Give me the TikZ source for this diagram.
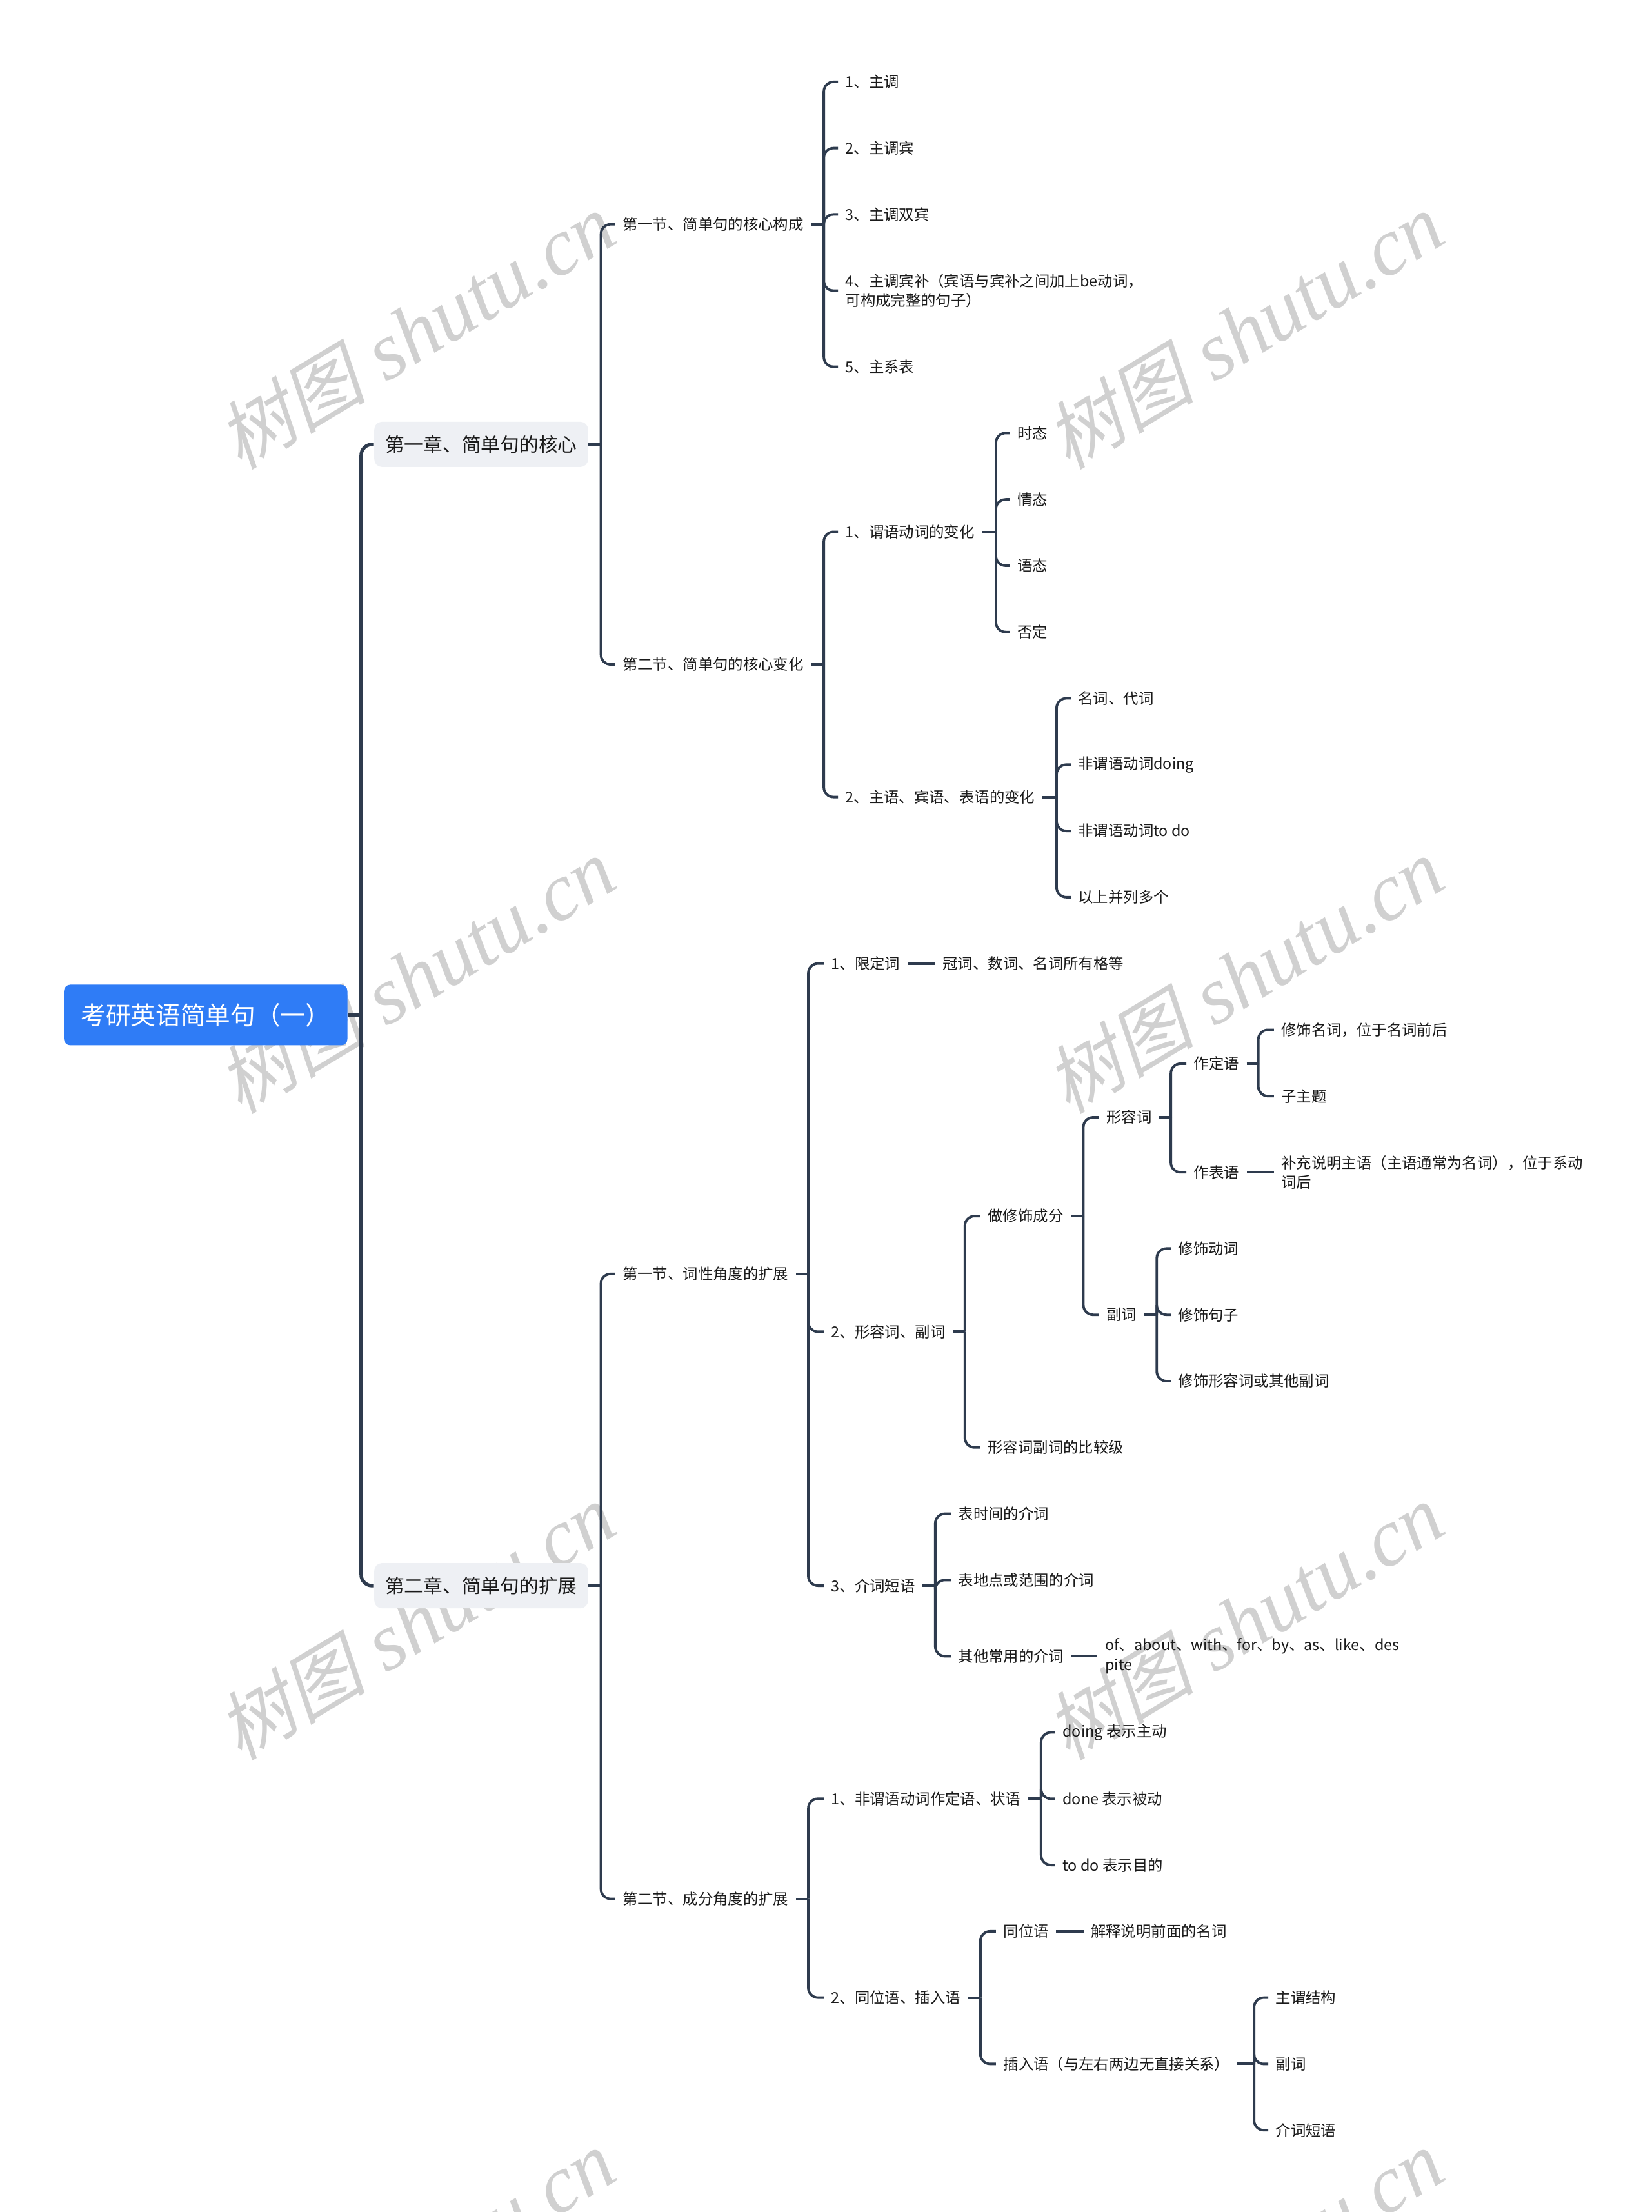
\documentclass[tikz,border=0pt]{standalone}
\usepackage{fontspec}
\setmainfont{Noto Sans CJK SC}
\newfontfamily\wmcjk[FakeSlant=0.22]{Noto Sans CJK SC}
\newfontfamily\wmlat{Liberation Serif}
\definecolor{lc}{HTML}{2E3B4E}
\definecolor{rootblue}{HTML}{2F7CF6}
\definecolor{chfill}{HTML}{EEF0F4}
\definecolor{wmc}{HTML}{D0D0D0}
\definecolor{txt}{HTML}{1A1A1A}
\newcommand\smtxt{\fontsize{6.65pt}{8.7pt}\selectfont}
\newcommand\fork[5]{%
  \coordinate (#2j) at (#3,#4);
  \draw[#1] (#2.east) -- (#2j);
  \foreach \c in {#5} {\draw[#1] (#2j) |- (\c.west);}}
\newcommand\link[2]{\draw[conn] (#1.east) -- (#2.west);}
\begin{document}
\begin{tikzpicture}[x=0.021862cm, y=-0.021862cm,
  conn/.style={draw=lc, line width=1.1pt, rounded corners=0.15cm},
  trunk/.style={draw=lc, line width=1.5pt, rounded corners=0.17cm},
  leaf/.style={anchor=west, inner xsep=0.11cm, inner ysep=0pt, font=\smtxt, align=left, text=txt},
  chap/.style={anchor=west, fill=chfill, rounded corners=0.12cm, inner xsep=0.17cm, inner ysep=0pt,
    minimum height=0.70cm, font=\fontsize{8.46pt}{10pt}\selectfont, text=txt},
  rootbox/.style={anchor=west, fill=rootblue, text=white, rounded corners=0.1cm, inner sep=0pt,
    minimum width=4.394cm, minimum height=0.94cm, font=\fontsize{11pt}{13pt}\selectfont},
  wm/.style={text=wmc, rotate=31, inner sep=0pt}]
\useasboundingbox (0,0) rectangle (1171,1568);
\fill[white] (0,0) rectangle (1171,1568);

% watermarks
\foreach \i/\wx/\wy in {1/295/235, 2/882/235, 3/295/692, 4/882/692, 5/295/1150, 6/882/1150, 7/295/1608, 8/882/1608}{
  \node[wm] (wm\i) at (\wx,\wy) {{\wmcjk\fontsize{33pt}{36pt}\selectfont 树图}\hspace{9pt}{\wmlat\itshape\fontsize{36pt}{38pt}\selectfont shutu.cn}};
}

% root and chapters
\node[rootbox] (root) at (45,719.5) {考研英语简单句（一）};
\node[chap] (ch1) at (265,315) {第一章、简单句的核心};
\node[chap] (ch2) at (265,1124) {第二章、简单句的扩展};

% chapter 1
\node[leaf] (s11) at (436,159) {第一节、简单句的核心构成};
\node[leaf] (s12) at (436,471) {第二节、简单句的核心变化};
\node[leaf] (a1) at (594,58) {1、主调};
\node[leaf] (a2) at (594,105) {2、主调宾};
\node[leaf] (a3) at (594,152) {3、主调双宾};
\node[leaf] (a4) at (594,206) {4、主调宾补（宾语与宾补之间加上be动词，\\可构成完整的句子）};
\node[leaf] (a5) at (594,260) {5、主系表};
\node[leaf] (b1) at (594,377) {1、谓语动词的变化};
\node[leaf] (b2) at (594,565) {2、主语、宾语、表语的变化};
\node[leaf] (b11) at (716,307) {时态};
\node[leaf] (b12) at (716,354) {情态};
\node[leaf] (b13) at (716,401) {语态};
\node[leaf] (b14) at (716,448) {否定};
\node[leaf] (b21) at (759,495) {名词、代词};
\node[leaf] (b22) at (759,542) {非谓语动词doing};
\node[leaf] (b23) at (759,589) {非谓语动词to do};
\node[leaf] (b24) at (759,636) {以上并列多个};

% chapter 2
\node[leaf] (s21) at (436,903) {第一节、词性角度的扩展};
\node[leaf] (s22) at (436,1346) {第二节、成分角度的扩展};
\node[leaf] (c1) at (584,683) {1、限定词};
\node[leaf] (c1a) at (663,683) {冠词、数词、名词所有格等};
\node[leaf] (c2) at (584,944) {2、形容词、副词};
\node[leaf] (c2a) at (695,862) {做修饰成分};
\node[leaf] (c2b) at (695,1026) {形容词副词的比较级};
\node[leaf] (adj) at (779,792) {形容词};
\node[leaf] (adv) at (779,932) {副词};
\node[leaf] (dz) at (841,754) {作定语};
\node[leaf] (db) at (841,831) {作表语};
\node[leaf] (dz1) at (903,730) {修饰名词，位于名词前后};
\node[leaf] (dz2) at (903,777) {子主题};
\node[leaf] (db1) at (903,831) {补充说明主语（主语通常为名词），位于系动\\词后};
\node[leaf] (adv1) at (830,885) {修饰动词};
\node[leaf] (adv2) at (830,932) {修饰句子};
\node[leaf] (adv3) at (830,979) {修饰形容词或其他副词};
\node[leaf] (c3) at (584,1124) {3、介词短语};
\node[leaf] (c3a) at (674,1073) {表时间的介词};
\node[leaf] (c3b) at (674,1120) {表地点或范围的介词};
\node[leaf] (c3c) at (674,1174) {其他常用的介词};
\node[leaf] (c3c1) at (778,1174) {of、about、with、for、by、as、like、des\\pite};
\node[leaf] (d1) at (584,1275) {1、非谓语动词作定语、状语};
\node[leaf] (d1a) at (748,1228) {doing 表示主动};
\node[leaf] (d1b) at (748,1275) {done 表示被动};
\node[leaf] (d1c) at (748,1322) {to do 表示目的};
\node[leaf] (d2) at (584,1416) {2、同位语、插入语};
\node[leaf] (d2a) at (706,1369) {同位语};
\node[leaf] (d2a1) at (768,1369) {解释说明前面的名词};
\node[leaf] (d2b) at (706,1463) {插入语（与左右两边无直接关系）};
\node[leaf] (d2b1) at (899,1416) {主谓结构};
\node[leaf] (d2b2) at (899,1463) {副词};
\node[leaf] (d2b3) at (899,1510) {介词短语};

% connectors
\fork{trunk}{root}{256}{719.5}{ch1,ch2}
\fork{conn}{ch1}{426}{315}{s11,s12}
\fork{conn}{ch2}{426}{1124}{s21,s22}
\fork{conn}{s11}{584}{159}{a1,a2,a3,a4,a5}
\fork{conn}{s12}{584}{471}{b1,b2}
\fork{conn}{b1}{706}{377}{b11,b12,b13,b14}
\fork{conn}{b2}{749}{565}{b21,b22,b23,b24}
\fork{conn}{s21}{573}{903}{c1,c2,c3}
\link{c1}{c1a}
\fork{conn}{c2}{684}{944}{c2a,c2b}
\fork{conn}{c2a}{768}{862}{adj,adv}
\fork{conn}{adj}{830}{792}{dz,db}
\fork{conn}{dz}{892}{754}{dz1,dz2}
\link{db}{db1}
\fork{conn}{adv}{820}{932}{adv1,adv2,adv3}
\fork{conn}{c3}{663}{1124}{c3a,c3b,c3c}
\link{c3c}{c3c1}
\fork{conn}{s22}{573}{1346}{d1,d2}
\fork{conn}{d1}{738}{1275}{d1a,d1b,d1c}
\fork{conn}{d2}{695}{1416}{d2a,d2b}
\link{d2a}{d2a1}
\fork{conn}{d2b}{889}{1463}{d2b1,d2b2,d2b3}
\end{tikzpicture}
\end{document}
